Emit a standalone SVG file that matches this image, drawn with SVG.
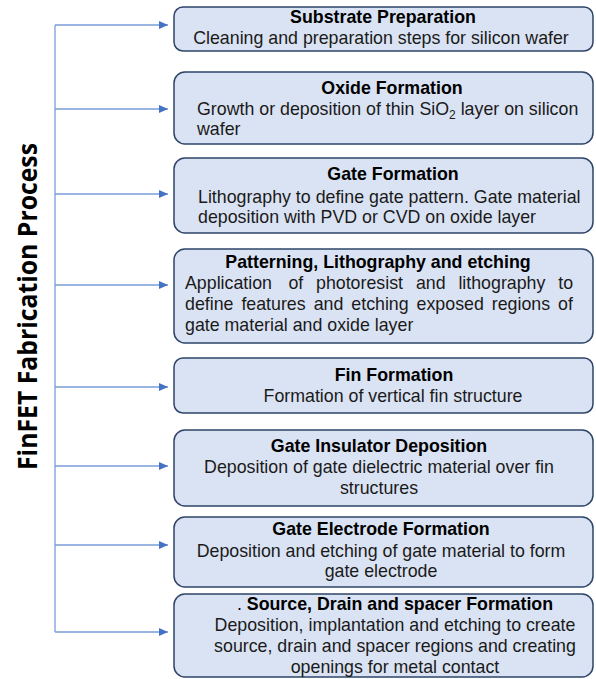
<svg xmlns="http://www.w3.org/2000/svg" width="596" height="679" viewBox="0 0 596 679">
<defs>
<style>
.box{fill:#DAE3F3;stroke:#2E4468;stroke-width:1.5}
.h{font-family:"Liberation Sans",Arial,sans-serif;font-weight:bold;font-size:17.8px;fill:#000;text-anchor:middle}
.t{font-family:"Liberation Sans",Arial,sans-serif;font-size:17.8px;fill:#1a1a1a}
.c{text-anchor:middle}
.conn{fill:none;stroke:#7A9CDA;stroke-width:1.3}
.title{font-family:"Open Sans","Noto Sans",sans-serif;font-weight:bold;font-size:27px;fill:#000;text-anchor:middle}
</style>
<marker id="arr" markerWidth="10" markerHeight="10" refX="9" refY="5" orient="auto" markerUnits="userSpaceOnUse">
<path d="M0,1 L9,5 L0,9 Z" fill="#4472C4"/>
</marker>
</defs>
<rect width="596" height="679" fill="#fff"/>
<text class="title" transform="translate(37,306.5) rotate(-90)" textLength="327" lengthAdjust="spacingAndGlyphs">FinFET Fabrication Process</text>
<g id="connectors">
<path class="conn" d="M55,25 V632"/>
<path class="conn" d="M55,25 H168" marker-end="url(#arr)"/>
<path class="conn" d="M55,109 H168" marker-end="url(#arr)"/>
<path class="conn" d="M55,194 H168" marker-end="url(#arr)"/>
<path class="conn" d="M55,285 H168" marker-end="url(#arr)"/>
<path class="conn" d="M55,387 H168" marker-end="url(#arr)"/>
<path class="conn" d="M55,466 H168" marker-end="url(#arr)"/>
<path class="conn" d="M55,545 H168" marker-end="url(#arr)"/>
<path class="conn" d="M55,632 H168" marker-end="url(#arr)"/>
</g>
<g id="n1">
<rect class="box" x="174" y="7" width="419" height="44" rx="9"/>
<text class="h" x="383" y="23">Substrate Preparation</text>
<text class="t c" x="381" y="44">Cleaning and preparation steps for silicon wafer</text>
</g>
<g id="n2">
<rect class="box" x="174" y="72" width="419" height="72" rx="11"/>
<text class="h" x="392" y="94">Oxide Formation</text>
<text class="t" x="197" y="115">Growth or deposition of thin SiO<tspan dy="4" font-size="12">2</tspan><tspan dy="-4"> layer on silicon</tspan></text>
<text class="t" x="197" y="135">wafer</text>
</g>
<g id="n3">
<rect class="box" x="174" y="158" width="419" height="75" rx="11"/>
<text class="h" x="393" y="180">Gate Formation</text>
<text class="t" x="198" y="203">Lithography to define gate pattern. Gate material</text>
<text class="t" x="198" y="223">deposition with PVD or CVD on oxide layer</text>
</g>
<g id="n4">
<rect class="box" x="174" y="249" width="419" height="94" rx="11"/>
<text class="h" x="378" y="268">Patterning, Lithography and etching</text>
<text class="t" y="289"><tspan x="185">Application</tspan><tspan x="288.4">of</tspan><tspan x="316">photoresist</tspan><tspan x="415.9">and</tspan><tspan x="458.4">lithography</tspan><tspan x="558.2">to</tspan></text>
<text class="t" y="310"><tspan x="185">define</tspan><tspan x="241.4">features</tspan><tspan x="313.7">and</tspan><tspan x="351.3">etching</tspan><tspan x="416.6">exposed</tspan><tspan x="491.8">regions</tspan><tspan x="558.1">of</tspan></text>
<text class="t" x="185" y="331">gate material and oxide layer</text>
</g>
<g id="n5">
<rect class="box" x="174" y="358" width="419" height="55" rx="9"/>
<text class="h" x="394" y="381">Fin Formation</text>
<text class="t c" x="393" y="402">Formation of vertical fin structure</text>
</g>
<g id="n6">
<rect class="box" x="174" y="430" width="419" height="76" rx="11"/>
<text class="h" x="379" y="452">Gate Insulator Deposition</text>
<text class="t c" x="379" y="473">Deposition of gate dielectric material over fin</text>
<text class="t c" x="379" y="494">structures</text>
</g>
<g id="n7">
<rect class="box" x="174" y="517" width="419" height="70" rx="11"/>
<text class="h" x="381" y="535">Gate Electrode Formation</text>
<text class="t c" x="381" y="557">Deposition and etching of gate material to form</text>
<text class="t c" x="381" y="577">gate electrode</text>
</g>
<g id="n8">
<rect class="box" x="174" y="594" width="419" height="83" rx="11"/>
<text class="h" x="395" y="610"><tspan font-weight="normal">. </tspan>Source, Drain and spacer Formation</text>
<text class="t c" x="395" y="631">Deposition, implantation and etching to create</text>
<text class="t c" x="395" y="652">source, drain and spacer regions and creating</text>
<text class="t c" x="395" y="673">openings for metal contact</text>
</g>
</svg>
